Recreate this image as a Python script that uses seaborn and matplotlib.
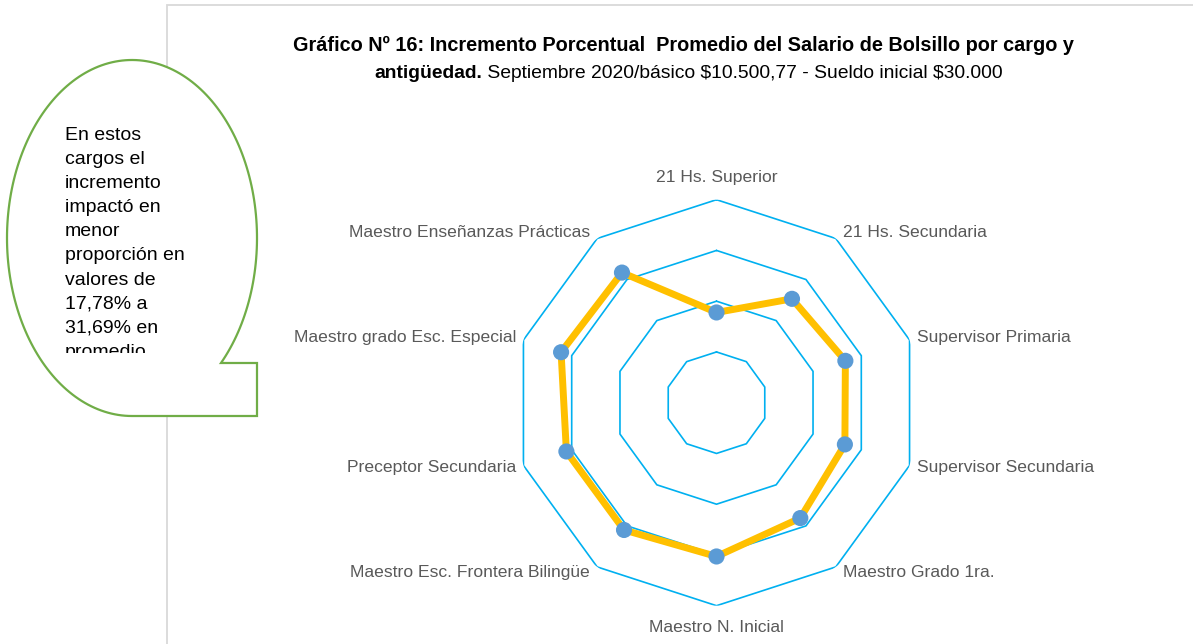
import numpy as np
import pandas as pd
import seaborn as sns
import matplotlib.pyplot as plt
from matplotlib.patches import Rectangle, PathPatch
from matplotlib.path import Path
from matplotlib.transforms import Bbox, TransformedBbox

# --- data ---
cargos = ["21 Hs. Superior", "21 Hs. Secundaria", "Supervisor Primaria",
          "Supervisor Secundaria", "Maestro Grado 1ra.", "Maestro N. Inicial",
          "Maestro Esc. Frontera Bilingüe", "Preceptor Secundaria",
          "Maestro grado Esc. Especial", "Maestro Enseñanzas Prácticas"]
incremento = [0.1778, 0.253, 0.267, 0.266, 0.281, 0.303, 0.310, 0.311, 0.322, 0.3169]
niveles = [0.1, 0.2, 0.3, 0.4]
nota = ["En estos", "cargos el", "incremento", "impactó en", "menor",
        "proporción en", "valores de", "17,78% a", "31,69% en", "promedio"]

W, H = 1193, 644
sns.set_style("white")
plt.rcParams["font.family"] = ["Liberation Sans", "DejaVu Sans"]
plt.rcParams["text.parse_math"] = False
plt.rcParams["text.color"] = "black"
NARROW = ["Liberation Sans Narrow", "Liberation Sans", "DejaVu Sans"]

fig = plt.figure(figsize=(W / 100, H / 100), dpi=100)


def fx(x):
    return x / W


def fy(y):
    return 1 - y / H


# chart frame
frame = Rectangle((fx(167), -0.05), 1.1, fy(5) + 0.05, transform=fig.transFigure,
                  facecolor="none", edgecolor="#D9D9D9", lw=1.3, zorder=1)
fig.add_artist(frame)

# --- radar ---
cx, cy, R = 716.5, 402.7, 203
ax = fig.add_axes([fx(cx - R), fy(cy + R), 2 * R / W, 2 * R / H], projection="polar")
ax.set_theta_zero_location("N")
ax.set_theta_direction(-1)
ax.set_ylim(0, 0.4)
ax.grid(False)
ax.spines["polar"].set_visible(False)
ax.set_xticks([])
ax.set_yticks([])
ax.patch.set_alpha(0)

n = len(cargos)
theta = np.linspace(0, 2 * np.pi, n, endpoint=False)
theta_c = np.append(theta, 2 * np.pi)

for lv in niveles:
    ax.plot(theta_c, [lv] * (n + 1), color="#00B0F0", lw=1.2, zorder=1)

df = pd.DataFrame({"theta": theta, "valor": incremento, "cargo": cargos})
df_c = pd.concat([df, df.iloc[[0]].assign(theta=2 * np.pi)], ignore_index=True)
sns.lineplot(data=df_c, x="theta", y="valor", sort=False, estimator=None,
             color="#FFC000", lw=5, ax=ax, zorder=3)
sns.scatterplot(data=df, x="theta", y="valor", color="#5B9BD5", s=135,
                edgecolor="none", ax=ax, zorder=4, clip_on=False)
ax.set_xlabel("")
ax.set_ylabel("")
ax.set_ylim(0, 0.4)

for th, lab in zip(theta, cargos):
    s, c = np.sin(th), np.cos(th)
    if abs(s) < 1e-6:
        ha, dx, dy = "center", 0, 22 * c
    else:
        ha = "left" if s > 0 else "right"
        dx, dy = 7 * np.sign(s), 7 * c
    ax.annotate(lab, xy=(th, 0.4), xytext=(dx, dy), textcoords="offset pixels",
                ha=ha, va="center", color="#595959", fontsize=12.6,
                family=NARROW, annotation_clip=False)

# --- title ---
fig.text(fx(683.5), fy(45), "Gráfico Nº 16: Incremento Porcentual  Promedio del Salario de Bolsillo por cargo y",
         ha="center", va="center", fontsize=14.3, fontweight="bold", family=NARROW)
t1 = fig.text(fx(374), fy(74), "antigüedad.", ha="left", va="center",
              fontsize=13.9, fontweight="bold", family=NARROW)
t2 = ax.annotate(" Septiembre 2020/básico $10.500,77 - Sueldo inicial $30.000",
                 xy=(1, 0), xycoords=t1, ha="left", va="bottom", fontsize=13.9,
                 family=NARROW, annotation_clip=False)
# centre the two-part second line
fig.canvas.draw()
r = fig.canvas.get_renderer()
b1, b2 = t1.get_window_extent(r), t2.get_window_extent(r)
width = b2.x1 - b1.x0
t1.set_x(fx(688.5) - width / 2 / fig.bbox.width)

# --- callout bubble ---
ecx, ecy, a, b = 132, 238, 125, 178
t_end = -np.degrees(np.arcsin((363 - ecy) / b))
ts = np.radians(np.linspace(270, t_end, 200))
pts = [(ecx + a * np.cos(t), ecy - b * np.sin(t)) for t in ts]
pts += [(257, 363), (257, 416), (ecx, 416)]
verts = [(fx(x), fy(y)) for x, y in pts]
codes = [Path.MOVETO] + [Path.LINETO] * (len(verts) - 2) + [Path.CLOSEPOLY]
bubble = PathPatch(Path(verts, codes), transform=fig.transFigure,
                   facecolor="white", edgecolor="#70AD47", lw=1.6, zorder=2)
fig.add_artist(bubble)

clip = TransformedBbox(Bbox.from_extents(0, fy(353), fx(300), 1), fig.transFigure)
for i, line in enumerate(nota):
    t = fig.text(fx(65), fy(140 + 24.1 * i), line, ha="left", va="baseline",
                 fontsize=14, color="black", zorder=3)
    t.set_clip_box(clip)
    t.set_clip_on(True)

fig.savefig("out.png", dpi=100)
